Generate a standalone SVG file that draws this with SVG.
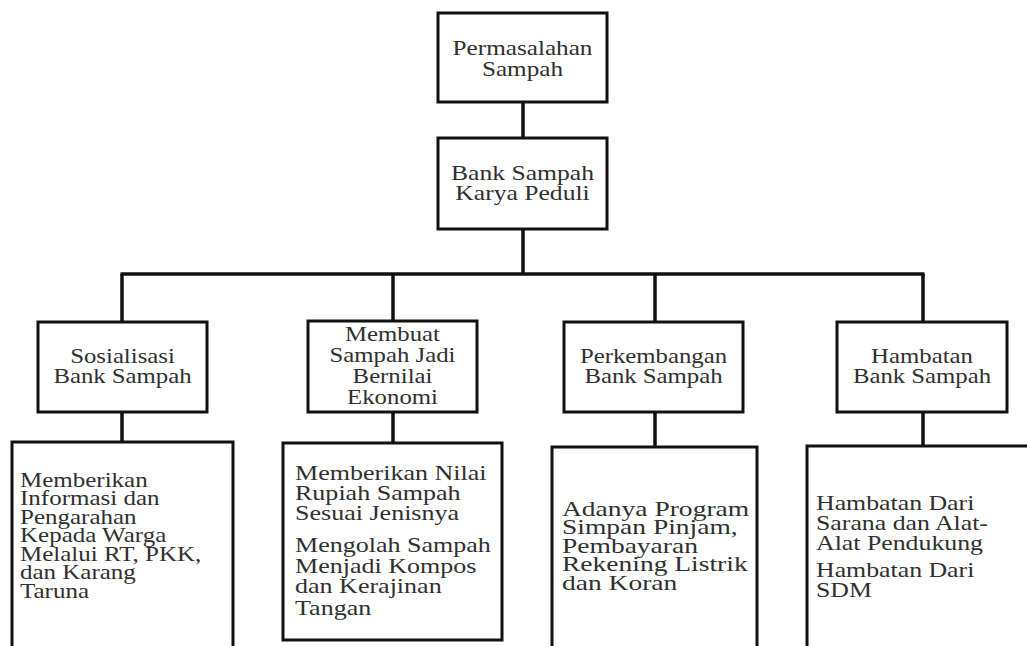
<svg xmlns="http://www.w3.org/2000/svg" width="1027" height="646" viewBox="0 0 1027 646">
<style>
.box{fill:#fff;stroke:#111;stroke-width:3}
.con{stroke:#111;stroke-width:3.5;fill:none}
.t{font-family:'Liberation Serif',serif;font-size:21px;fill:#303030}
.c{text-anchor:middle}
</style>
<rect width="1027" height="646" fill="#fff"/>
<g id="connectors">
<line class="con" x1="523" y1="102" x2="523" y2="138"/>
<line class="con" x1="523" y1="229" x2="523" y2="274"/>
<line class="con" x1="120.5" y1="274" x2="924.5" y2="274"/>
<line class="con" x1="122" y1="274" x2="122" y2="322"/>
<line class="con" x1="393" y1="274" x2="393" y2="321"/>
<line class="con" x1="655" y1="274" x2="655" y2="322"/>
<line class="con" x1="923" y1="274" x2="923" y2="322"/>
<line class="con" x1="122" y1="412" x2="122" y2="442"/>
<line class="con" x1="393" y1="412" x2="393" y2="443"/>
<line class="con" x1="655" y1="412" x2="655" y2="447"/>
<line class="con" x1="923" y1="412" x2="923" y2="446"/>
</g>
<g id="n-permasalahan">
<rect class="box" x="438" y="13" width="169" height="89"/>
<text class="t c" font-family="Liberation Serif" transform="translate(522.5,0) scale(1.2,1)"><tspan x="0" y="55">Permasalahan</tspan><tspan x="0" y="76">Sampah</tspan></text>
</g>
<g id="n-bank">
<rect class="box" x="438" y="138" width="169" height="91"/>
<text class="t c" font-family="Liberation Serif" transform="translate(522.5,0) scale(1.22,1)"><tspan x="0" y="180">Bank Sampah</tspan><tspan x="0" y="200">Karya Peduli</tspan></text>
</g>
<g id="n-sosialisasi">
<rect class="box" x="38" y="322" width="169" height="90"/>
<text class="t c" font-family="Liberation Serif" transform="translate(122.5,0) scale(1.18,1)"><tspan x="0" y="363">Sosialisasi</tspan><tspan x="0" y="383">Bank Sampah</tspan></text>
</g>
<g id="n-membuat">
<rect class="box" x="308" y="321" width="169" height="91"/>
<text class="t c" font-family="Liberation Serif" transform="translate(392.5,0) scale(1.18,1)"><tspan x="0" y="341">Membuat</tspan><tspan x="0" y="362">Sampah Jadi</tspan><tspan x="0" y="383">Bernilai</tspan><tspan x="0" y="404">Ekonomi</tspan></text>
</g>
<g id="n-perkembangan">
<rect class="box" x="564" y="322" width="179" height="90"/>
<text class="t c" font-family="Liberation Serif" transform="translate(653.5,0) scale(1.18,1)"><tspan x="0" y="363">Perkembangan</tspan><tspan x="0" y="383">Bank Sampah</tspan></text>
</g>
<g id="n-hambatan">
<rect class="box" x="837" y="322" width="170" height="90"/>
<text class="t c" font-family="Liberation Serif" transform="translate(922,0) scale(1.18,1)"><tspan x="0" y="363">Hambatan</tspan><tspan x="0" y="383">Bank Sampah</tspan></text>
</g>
<g id="n-detail-sosialisasi">
<rect class="box" x="12" y="442" width="221" height="220"/>
<text class="t" font-family="Liberation Serif" transform="translate(20,0) scale(1.19,1)"><tspan x="0" y="487">Memberikan</tspan><tspan x="0" y="505.5">Informasi dan</tspan><tspan x="0" y="524">Pengarahan</tspan><tspan x="0" y="542.5">Kepada Warga</tspan><tspan x="0" y="561">Melalui RT, PKK,</tspan><tspan x="0" y="579.5">dan  Karang</tspan><tspan x="0" y="598">Taruna</tspan></text>
</g>
<g id="n-detail-membuat">
<rect class="box" x="283" y="443" width="219" height="197"/>
<text class="t" font-family="Liberation Serif" transform="translate(295,0) scale(1.24,1)"><tspan x="0" y="480">Memberikan Nilai</tspan><tspan x="0" y="500">Rupiah Sampah</tspan><tspan x="0" y="520">Sesuai Jenisnya</tspan><tspan x="0" y="552">Mengolah Sampah</tspan><tspan x="0" y="573">Menjadi Kompos</tspan><tspan x="0" y="593">dan Kerajinan</tspan><tspan x="0" y="615">Tangan</tspan></text>
</g>
<g id="n-detail-perkembangan">
<rect class="box" x="552" y="447" width="205" height="215"/>
<text class="t" font-family="Liberation Serif" transform="translate(562,0) scale(1.31,1)"><tspan x="0" y="516">Adanya Program</tspan><tspan x="0" y="534.5">Simpan Pinjam,</tspan><tspan x="0" y="553">Pembayaran</tspan><tspan x="0" y="571.5">Rekening Listrik</tspan><tspan x="0" y="590">dan Koran</tspan></text>
</g>
<g id="n-detail-hambatan">
<rect class="box" x="807" y="446" width="240" height="216"/>
<text class="t" font-family="Liberation Serif" transform="translate(816,0) scale(1.23,1)"><tspan x="0" y="510">Hambatan Dari</tspan><tspan x="0" y="530">Sarana dan Alat-</tspan><tspan x="0" y="550">Alat Pendukung</tspan><tspan x="0" y="577">Hambatan Dari</tspan><tspan x="0" y="597">SDM</tspan></text>
</g>
</svg>
